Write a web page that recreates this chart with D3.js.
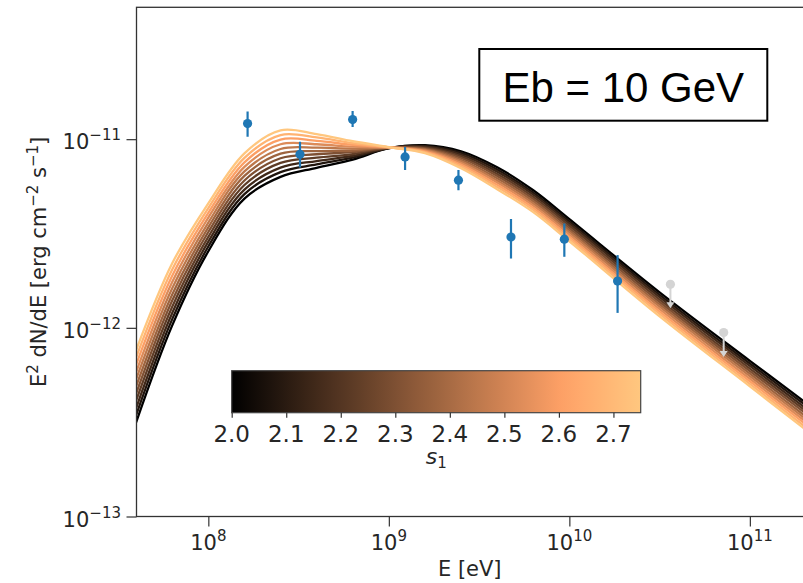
<!DOCTYPE html>
<html><head><meta charset="utf-8">
<script src="https://cdn.jsdelivr.net/npm/d3@7"></script>
<style>body{margin:0;background:#fff;} svg{display:block;}</style>
</head><body><svg id="c" width="803" height="583"></svg>
<script>
// ---------- data ----------
const s1Values = [2.0, 2.075, 2.15, 2.225, 2.3, 2.375, 2.45, 2.525, 2.6, 2.675, 2.75];
const logEnergy = [7.6, 7.8, 8.0, 8.2, 8.4, 8.6, 8.8, 9.0, 9.2, 9.4, 9.6, 9.8, 10.0, 10.5, 11.0, 11.3];
// log10(E^2 dN/dE) per s1 curve
const curveS1_200 = [-12.501,-11.987,-11.594,-11.315,-11.200,-11.152,-11.108,-11.048,-11.032,-11.064,-11.149,-11.271,-11.424,-11.812,-12.175,-12.390];
const curveS1_2075 = [-12.463,-11.954,-11.569,-11.291,-11.175,-11.134,-11.098,-11.047,-11.036,-11.073,-11.161,-11.283,-11.436,-11.825,-12.189,-12.404];
const curveS1_215 = [-12.425,-11.921,-11.543,-11.267,-11.151,-11.116,-11.089,-11.047,-11.040,-11.082,-11.172,-11.294,-11.447,-11.837,-12.202,-12.419];
const curveS1_2225 = [-12.386,-11.888,-11.518,-11.243,-11.126,-11.098,-11.079,-11.046,-11.045,-11.091,-11.184,-11.306,-11.459,-11.850,-12.216,-12.433];
const curveS1_230 = [-12.348,-11.855,-11.492,-11.219,-11.101,-11.080,-11.069,-11.046,-11.049,-11.100,-11.195,-11.317,-11.471,-11.863,-12.229,-12.447];
const curveS1_2375 = [-12.310,-11.823,-11.467,-11.195,-11.077,-11.063,-11.060,-11.045,-11.053,-11.109,-11.207,-11.329,-11.483,-11.876,-12.243,-12.462];
const curveS1_245 = [-12.272,-11.790,-11.442,-11.171,-11.052,-11.045,-11.050,-11.044,-11.057,-11.118,-11.219,-11.341,-11.494,-11.888,-12.256,-12.476];
const curveS1_2525 = [-12.234,-11.757,-11.416,-11.147,-11.027,-11.027,-11.040,-11.044,-11.061,-11.127,-11.230,-11.352,-11.506,-11.901,-12.270,-12.490];
const curveS1_260 = [-12.195,-11.724,-11.391,-11.123,-11.002,-11.009,-11.030,-11.043,-11.066,-11.136,-11.242,-11.364,-11.518,-11.914,-12.283,-12.504];
const curveS1_2675 = [-12.157,-11.691,-11.365,-11.099,-10.978,-10.991,-11.021,-11.043,-11.070,-11.145,-11.253,-11.375,-11.529,-11.926,-12.297,-12.519];
const curveS1_275 = [-12.119,-11.658,-11.340,-11.075,-10.953,-10.973,-11.011,-11.042,-11.074,-11.154,-11.265,-11.387,-11.541,-11.939,-12.310,-12.533];
const curves = [curveS1_200, curveS1_2075, curveS1_215, curveS1_2225, curveS1_230, curveS1_2375,
                curveS1_245, curveS1_2525, curveS1_260, curveS1_2675, curveS1_275];

const pointE    = [1.65e8, 3.22e8, 6.3e8, 1.23e9, 2.43e9, 4.75e9, 9.38e9, 1.85e10];
const pointFlux = [1.21e-11, 8.32e-12, 1.27e-11, 8.05e-12, 6.06e-12, 3.03e-12, 2.95e-12, 1.77e-12];
const pointLo   = [1.03e-11, 7.08e-12, 1.16e-11, 6.86e-12, 5.36e-12, 2.33e-12, 2.38e-12, 1.20e-12];
const pointHi   = [1.40e-11, 9.68e-12, 1.41e-11, 9.10e-12, 6.86e-12, 3.77e-12, 3.57e-12, 2.43e-12];
const ulE       = [3.63e10, 7.16e10];
const ulFlux    = [1.70e-12, 9.44e-13];
const ulArrowTo = [1.27e-12, 7.0e-13];

const xMajor = [1e8, 1e9, 1e10, 1e11];
const xMajorExp = ["8", "9", "10", "11"];
const yMajor = [1e-13, 1e-12, 1e-11];
const yMajorExp = ["−13", "−12", "−11"];
const cbTicks = [2.0, 2.1, 2.2, 2.3, 2.4, 2.5, 2.6, 2.7];
const annotation = "Eb = 10 GeV";

// ---------- layout ----------
const L = 136.5, R = 804.2, T = 7.3, B = 516.5;
const svg = d3.select("#c");
const x = d3.scaleLog().domain([4e7, 2e11]).range([L, R]);
const y = d3.scaleLog().domain([1e-13, 5e-11]).range([B, T]);
const s1Min = 2.0, s1Max = 2.75;
function copper(t) {
  t = Math.max(0, Math.min(1, t));
  const r = Math.min(1, t / 0.809524), g = 0.7812 * t, b = 0.4975 * t;
  return d3.rgb(r * 255, g * 255, b * 255).formatHex();
}
const FONT = "DejaVu Sans, sans-serif";
const INK = "#262626";

svg.append("defs").append("clipPath").attr("id", "clip")
  .append("rect").attr("x", L).attr("y", T).attr("width", R - L).attr("height", B - T);

// curves
const line = d3.line().x(d => x(d[0])).y(d => y(d[1])).curve(d3.curveCatmullRom.alpha(0.5));
const gCurves = svg.append("g").attr("clip-path", "url(#clip)");
curves.forEach((c, k) => {
  const pts = logEnergy.map((le, i) => [Math.pow(10, le), Math.pow(10, c[i])]);
  gCurves.append("path").attr("d", line(pts)).attr("fill", "none")
    .attr("stroke", copper((s1Values[k] - s1Min) / (s1Max - s1Min))).attr("stroke-width", 2.3);
});

// data points
const gPts = svg.append("g").attr("clip-path", "url(#clip)");
pointE.forEach((e, i) => {
  gPts.append("line").attr("x1", x(e)).attr("x2", x(e)).attr("y1", y(pointLo[i])).attr("y2", y(pointHi[i]))
    .attr("stroke", "#1f77b4").attr("stroke-width", 2.2);
  gPts.append("circle").attr("cx", x(e)).attr("cy", y(pointFlux[i])).attr("r", 4.6).attr("fill", "#1f77b4");
});
ulE.forEach((e, i) => {
  const cx = x(e), y0 = y(ulFlux[i]), y1 = y(ulArrowTo[i]);
  gPts.append("line").attr("x1", cx).attr("x2", cx).attr("y1", y0).attr("y2", y1 - 3)
    .attr("stroke", "#d4d4d4").attr("stroke-width", 2);
  gPts.append("path").attr("d", `M${cx - 4},${y1 - 6}L${cx + 4},${y1 - 6}L${cx},${y1}Z`).attr("fill", "#d4d4d4");
  gPts.append("circle").attr("cx", cx).attr("cy", y0).attr("r", 4.6).attr("fill", "#d4d4d4");
});

// spines
svg.append("rect").attr("x", L).attr("y", T).attr("width", R - L).attr("height", B - T)
  .attr("fill", "none").attr("stroke", "#333").attr("stroke-width", 1.3);

// x axis ticks
const xMinor = [];
for (let d = 7; d <= 11; d++) for (let m = 2; m <= 9; m++) { const v = m * Math.pow(10, d); if (v >= 4e7 && v <= 2e11) xMinor.push(v); }
const gx = svg.append("g").attr("transform", `translate(0,${B})`);
gx.call(d3.axisBottom(x).tickValues(xMinor).tickSize(5).tickFormat(""));
gx.call(d3.axisBottom(x).tickValues(xMajor).tickSize(10).tickFormat(""));
gx.selectAll(".domain").remove();
gx.selectAll("line").attr("stroke", "#333").attr("stroke-width", 1.2);
xMajor.forEach((v, i) => {
  const t = svg.append("text").attr("x", x(v)).attr("y", 550).attr("text-anchor", "middle")
    .attr("font-family", FONT).attr("font-size", 21).attr("fill", INK);
  t.append("tspan").text("10");
  t.append("tspan").attr("dy", -9).attr("font-size", 15).text(xMajorExp[i]);
});

// y axis ticks
const yMinor = [];
for (let d = -13; d <= -11; d++) for (let m = 2; m <= 9; m++) { const v = m * Math.pow(10, d); if (v <= 5.01e-11) yMinor.push(v); }
const gy = svg.append("g").attr("transform", `translate(${L},0)`);
gy.call(d3.axisLeft(y).tickValues(yMinor).tickSize(5).tickFormat(""));
gy.call(d3.axisLeft(y).tickValues(yMajor).tickSize(10).tickFormat(""));
gy.selectAll(".domain").remove();
gy.selectAll("line").attr("stroke", "#333").attr("stroke-width", 1.2);
yMajor.forEach((v, i) => {
  const t = svg.append("text").attr("x", 121).attr("y", y(v) + 10).attr("text-anchor", "end")
    .attr("font-family", FONT).attr("font-size", 21).attr("fill", INK);
  t.append("tspan").text("10");
  t.append("tspan").attr("dy", -9).attr("font-size", 15).text(yMajorExp[i]);
});

// axis labels
svg.append("text").attr("x", (L + 803) / 2).attr("y", 576).attr("text-anchor", "middle")
  .attr("font-family", FONT).attr("font-size", 21).attr("fill", INK).text("E [eV]");
const yl = svg.append("text").attr("transform", `translate(46,${(T + B) / 2}) rotate(-90)`)
  .attr("text-anchor", "middle").attr("font-family", FONT).attr("font-size", 21).attr("fill", INK);
yl.append("tspan").text("E");
yl.append("tspan").attr("dy", -8).attr("font-size", 15).text("2");
yl.append("tspan").attr("dy", 8).text(" dN/dE [erg cm");
yl.append("tspan").attr("dy", -8).attr("font-size", 15).text("−2");
yl.append("tspan").attr("dy", 8).text(" s");
yl.append("tspan").attr("dy", -8).attr("font-size", 15).text("−1");
yl.append("tspan").attr("dy", 8).text("]");

// colorbar
const cbX0 = 231.7, cbX1 = 640.7, cbY0 = 370.7, cbY1 = 412.7;
const cb = d3.scaleLinear().domain([s1Min, s1Max]).range([cbX0, cbX1]);
const grad = svg.select("defs").append("linearGradient").attr("id", "cgrad").attr("x1", 0).attr("x2", 1).attr("y1", 0).attr("y2", 0);
d3.range(0, 1.0001, 0.05).forEach(t => grad.append("stop").attr("offset", t).attr("stop-color", copper(t)));
svg.append("rect").attr("x", cbX0).attr("y", cbY0).attr("width", cbX1 - cbX0).attr("height", cbY1 - cbY0)
  .attr("fill", "url(#cgrad)").attr("stroke", "#444").attr("stroke-width", 1.2);
const gcb = svg.append("g").attr("transform", `translate(0,${cbY1})`);
gcb.call(d3.axisBottom(cb).tickValues(cbTicks).tickSize(5).tickFormat(""));
gcb.selectAll(".domain").remove();
gcb.selectAll("line").attr("stroke", "#333").attr("stroke-width", 1.2);
cbTicks.forEach(v => {
  svg.append("text").attr("x", cb(v)).attr("y", 442).attr("text-anchor", "middle")
    .attr("font-family", FONT).attr("font-size", 23).attr("fill", INK).text(d3.format(".1f")(v));
});
const sl = svg.append("text").attr("x", (cbX0 + cbX1) / 2).attr("y", 464).attr("text-anchor", "middle")
  .attr("font-family", FONT).attr("font-size", 22).attr("fill", INK);
sl.append("tspan").attr("font-style", "italic").text("s");
sl.append("tspan").attr("dy", 4).attr("font-size", 15).text("1");

// annotation box
svg.append("rect").attr("x", 479.3).attr("y", 49).attr("width", 288).attr("height", 71.7)
  .attr("fill", "#fff").attr("stroke", "#000").attr("stroke-width", 2);
svg.append("text").attr("x", 623.3).attr("y", 101.5).attr("text-anchor", "middle")
  .attr("font-family", "Liberation Sans, Arial, sans-serif").attr("font-size", 42).attr("fill", "#000").text(annotation);
</script></body></html>
